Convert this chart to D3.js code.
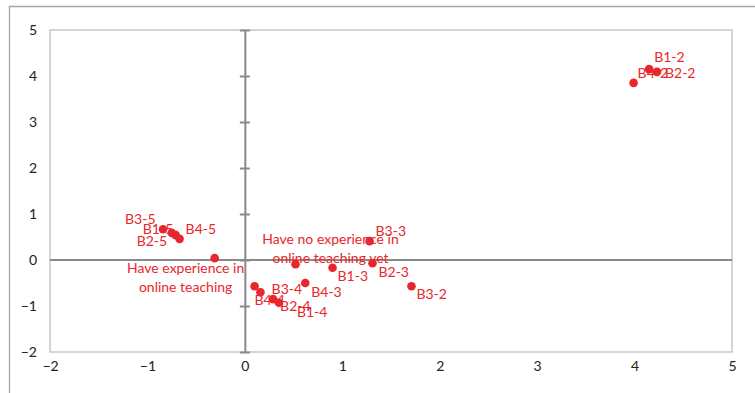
<!DOCTYPE html>
<html>
<head>
<meta charset="utf-8">
<script src="https://cdn.jsdelivr.net/npm/d3@7"></script>
<style>
  html, body { margin: 0; padding: 0; background: #fff; }
  svg { display: block; }
  text { font-family: Lato, "Open Sans", sans-serif; }
</style>
</head>
<body>
<svg id="chart" width="755" height="393"></svg>
<script>
// ---- data ----
const pointNames = ["B1-2", "B2-2", "B4-2", "B3-2", "B3-3", "B1-3", "B2-3", "B4-3",
                    "B3-4", "B4-4", "B2-4", "B1-4", "B3-5", "B1-5", "B2-5", "B4-5",
                    "Have experience in online teaching", "Have no experience in online teaching yet"];
const xValues = [4.15, 4.23, 3.99, 1.71, 1.28, 0.90, 1.31, 0.62,
                 0.10, 0.16, 0.29, 0.35, -0.84, -0.75, -0.71, -0.67,
                 -0.31, 0.52];
const yValues = [4.15, 4.09, 3.85, -0.57, 0.41, -0.17, -0.07, -0.50,
                 -0.57, -0.70, -0.85, -0.93, 0.67, 0.59, 0.54, 0.46,
                 0.04, -0.09];
const xTicks = [-2, -1, 0, 1, 2, 3, 4, 5];
const yTicks = [-2, -1, 0, 1, 2, 3, 4, 5];

// label placement (pixel offsets from each point; styling only)
const labelOffsets = {
  "B1-2": [5, -13, "start"], "B2-2": [8, 0, "start"], "B4-2": [4, -11, "start"],
  "B3-2": [5, 7, "start"], "B3-3": [6, -11, "start"], "B1-3": [5, 7, "start"],
  "B2-3": [6, 8, "start"], "B4-3": [6, 8, "start"],
  "B3-4": [17, 2, "start"], "B4-4": [-6, 7, "start"], "B2-4": [7, 6, "start"], "B1-4": [18, 8, "start"],
  "B3-5": [-38, -11, "start"], "B1-5": [-29, -5, "start"], "B2-5": [-39, 5, "start"], "B4-5": [6, -11, "start"],
  "Have experience in online teaching": [-29, 9, "middle"],
  "Have no experience in online teaching yet": [35, -26, "middle"]
};
const multiLine = {
  "Have experience in online teaching": ["Have experience in", "online teaching"],
  "Have no experience in online teaching yet": ["Have no experience in", "online teaching yet"]
};

// ---- drawing ----
const svg = d3.select("#chart");
const red = "#e8262b";
const x = d3.scaleLinear().domain([-2, 5]).range([50, 732]);
const y = d3.scaleLinear().domain([-2, 5]).range([352, 30]);

// outer frame lines
svg.append("line").attr("x1", 9).attr("x2", 755).attr("y1", 6.5).attr("y2", 6.5)
  .attr("stroke", "#a6a6a6").attr("stroke-width", 1.3);
svg.append("line").attr("x1", 9.5).attr("x2", 9.5).attr("y1", 6).attr("y2", 393)
  .attr("stroke", "#a6a6a6").attr("stroke-width", 1.3);

// plot area border
svg.append("rect").attr("x", x(-2)).attr("y", y(5))
  .attr("width", x(5) - x(-2)).attr("height", y(-2) - y(5))
  .attr("fill", "none").attr("stroke", "#c8c8c8").attr("stroke-width", 1.5);

// horizontal zero axis
svg.append("line").attr("x1", x(-2)).attr("x2", x(5)).attr("y1", y(0)).attr("y2", y(0))
  .attr("stroke", "#8a8a8a").attr("stroke-width", 2);

// vertical zero axis with cross ticks
const yAxis = d3.axisRight(y).tickValues(yTicks).tickSize(0).tickFormat("");
const yAxisG = svg.append("g").attr("transform", `translate(${x(0)},0)`).call(yAxis);
yAxisG.select(".domain").attr("stroke", "#8a8a8a").attr("stroke-width", 2);
yAxisG.selectAll(".tick line").attr("x1", -5).attr("x2", 5)
  .attr("stroke", "#8a8a8a").attr("stroke-width", 2);

// y tick labels on left
const yLab = d3.axisLeft(y).tickValues(yTicks).tickSize(0).tickPadding(0).tickFormat(d3.format("d"));
const yLabG = svg.append("g").attr("transform", "translate(37,0)").call(yLab);
yLabG.select(".domain").remove();
yLabG.selectAll("text").attr("font-family", "Lato, sans-serif").attr("font-size", 14).attr("fill", "#222");

// x tick labels at bottom
const xLab = d3.axisBottom(x).tickValues(xTicks).tickSize(0).tickPadding(0).tickFormat(d3.format("d"));
const xLabG = svg.append("g").attr("transform", "translate(0,361)").call(xLab);
xLabG.select(".domain").remove();
xLabG.selectAll("text").attr("font-family", "Lato, sans-serif").attr("font-size", 14).attr("fill", "#222");

// points
const pts = pointNames.map((n, i) => ({ name: n, xv: xValues[i], yv: yValues[i] }));
svg.append("g").selectAll("circle").data(pts).join("circle")
  .attr("cx", d => x(d.xv)).attr("cy", d => y(d.yv)).attr("r", 4.3).attr("fill", red);

// labels
const lg = svg.append("g");
pts.forEach(d => {
  const off = labelOffsets[d.name];
  const lines = multiLine[d.name] || [d.name];
  const t = lg.append("text")
    .attr("x", x(d.xv) + off[0]).attr("y", y(d.yv) + off[1])
    .attr("text-anchor", off[2]).attr("dominant-baseline", "central")
    .attr("font-size", 14).attr("fill", red);
  lines.forEach((ln, k) => {
    t.append("tspan").attr("x", x(d.xv) + off[0]).attr("dy", k === 0 ? 0 : 19).text(ln);
  });
});
</script>
</body>
</html>
